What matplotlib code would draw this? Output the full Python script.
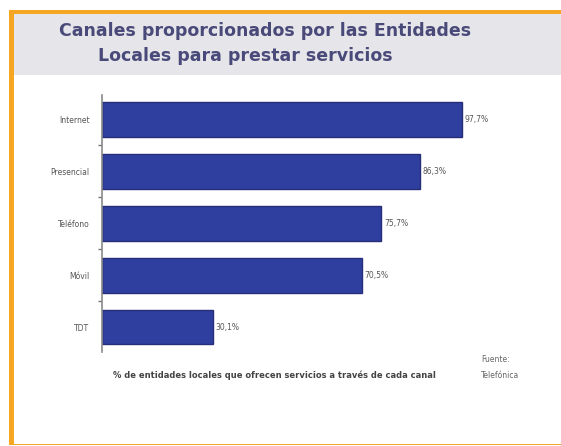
import matplotlib
matplotlib.use("Agg")
import matplotlib.pyplot as plt
from matplotlib.patches import Rectangle

categories = ["Internet", "Presencial", "Teléfono", "Móvil", "TDT"]
values = [97.7, 86.3, 75.7, 70.5, 30.1]
value_labels = ["97,7%", "86,3%", "75,7%", "70,5%", "30,1%"]
title_lines = ["Canales proporcionados por las Entidades", "Locales para prestar servicios"]
footnote = "% de entidades locales que ofrecen servicios a través de cada canal"
source = "Fuente:\nTelefónica"

W, H = 561, 446
fig = plt.figure(figsize=(W / 100, H / 100), dpi=100)
fig.patch.set_facecolor("white")

def px(x, y):
    return x / W, 1 - y / H

# title band
fig.patches.append(Rectangle(px(12, 75), 549 / W, 62 / H, transform=fig.transFigure,
                             facecolor="#e6e6ea", edgecolor="none", zorder=0))
# orange frame
orange = "#f5a623"
fig.patches.append(Rectangle(px(9, 444), 5 / W, 434 / H, transform=fig.transFigure,
                             facecolor=orange, edgecolor="none", zorder=1))
fig.patches.append(Rectangle(px(9, 14), 552 / W, 4 / H, transform=fig.transFigure,
                             facecolor=orange, edgecolor="none", zorder=1))
fig.patches.append(Rectangle(px(9, 445), 552 / W, 1.5 / H, transform=fig.transFigure,
                             facecolor=orange, edgecolor="none", zorder=1))

tcol = "#4a4a7a"
fig.text(*px(265, 31), title_lines[0], ha="center", va="center", fontsize=12.5,
         fontweight="bold", color=tcol)
fig.text(*px(245, 56), title_lines[1], ha="center", va="center", fontsize=12.5,
         fontweight="bold", color=tcol)

# axes
left, right, top, bottom = 102, 470.5, 95, 352
ax = fig.add_axes([left / W, 1 - bottom / H, (right - left) / W, (bottom - top) / H])
ax.set_facecolor("none")
ypos = list(range(len(categories)))
ax.barh(ypos, values, height=0.67, color="#2f3f9f", edgecolor="#262e78", linewidth=1.0)
ax.set_xlim(0, 100)
ax.set_ylim(len(categories) - 0.52, -0.47)
ax.set_yticks(ypos)
ax.set_yticklabels(categories, fontsize=5.5, color="#555555")
ax.set_yticks([i + 0.5 for i in range(len(categories) - 1)], minor=True)
ax.tick_params(axis="y", which="major", length=0, pad=9)
ax.tick_params(axis="y", which="minor", length=3, width=1, color="#777777")
ax.set_xticks([])
for s in ["top", "right", "bottom"]:
    ax.spines[s].set_visible(False)
ax.spines["left"].set_color("#8a8a8a")
ax.spines["left"].set_linewidth(1.2)
for y, v, lab in zip(ypos, values, value_labels):
    ax.text(v + 0.8, y, lab, va="center", ha="left", fontsize=5.5, color="#555555")

fig.text(*px(113, 375), footnote, ha="left", va="center", fontsize=6.0,
         fontweight="bold", color="#444444")
fig.text(*px(481, 367), source, ha="left", va="center", fontsize=5.5, color="#666666",
         linespacing=2.0)

fig.savefig("out.png", dpi=100)
